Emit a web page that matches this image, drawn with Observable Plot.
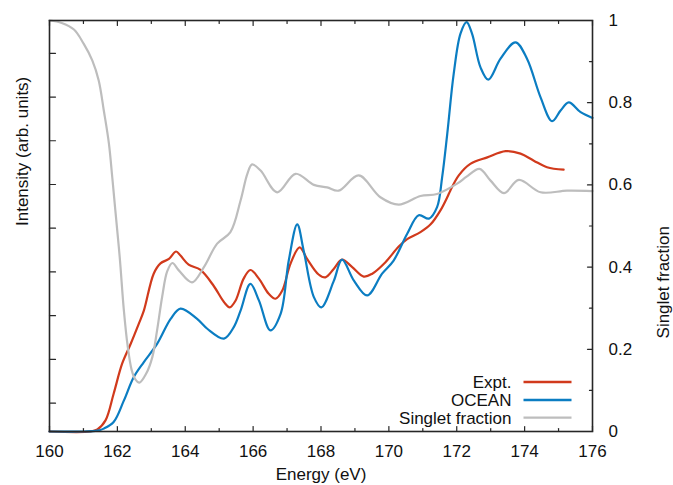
<!DOCTYPE html>
<html>
<head>
<meta charset="utf-8">
<script src="https://cdn.jsdelivr.net/npm/d3@7"></script>
<script src="https://cdn.jsdelivr.net/npm/@observablehq/plot@0.6"></script>
<style>
  html, body { margin: 0; padding: 0; background: #fff; }
  #chart { width: 673px; height: 485px; }
</style>
</head>
<body>
<div id="chart"></div>
<script>
// ---- Data (energy in eV; intensities normalised so OCEAN peak ~1) ----
const exptE = [160, 161.21, 161.41, 161.65, 161.89, 162.14, 162.39, 162.63, 162.78, 163.07, 163.27, 163.52, 163.73, 163.86, 164.10, 164.45, 164.84, 165.14, 165.31, 165.48, 165.72, 165.92, 166.17, 166.46, 166.66, 166.86, 167.10, 167.37, 167.59, 167.93, 168.13, 168.38, 168.62, 168.92, 169.26, 169.51, 169.90, 170.29, 170.54, 170.93, 171.23, 171.52, 171.72, 171.81, 172.06, 172.40, 172.90, 173.44, 173.88, 174.27, 174.66, 175.15];
const exptI = [0.0, 0.0, 0.005, 0.027, 0.092, 0.165, 0.213, 0.262, 0.294, 0.384, 0.409, 0.420, 0.438, 0.428, 0.406, 0.393, 0.354, 0.315, 0.302, 0.318, 0.372, 0.393, 0.372, 0.335, 0.323, 0.343, 0.408, 0.448, 0.420, 0.382, 0.375, 0.396, 0.418, 0.400, 0.377, 0.384, 0.412, 0.450, 0.468, 0.485, 0.504, 0.538, 0.570, 0.586, 0.623, 0.651, 0.667, 0.682, 0.676, 0.659, 0.643, 0.637];

const oceanE = [160, 161.0, 161.41, 161.60, 161.89, 162.19, 162.48, 162.78, 163.17, 163.57, 163.86, 164.35, 164.65, 165.14, 165.43, 165.63, 165.92, 166.17, 166.51, 166.81, 167.05, 167.30, 167.49, 167.79, 168.01, 168.38, 168.62, 168.97, 169.36, 169.80, 170.14, 170.54, 170.88, 171.18, 171.42, 171.57, 171.72, 171.91, 172.11, 172.29, 172.45, 172.70, 172.93, 173.29, 173.73, 174.07, 174.47, 174.81, 175.06, 175.30, 175.65, 176.0];
const oceanI = [0.0, 0.0, 0.002, 0.007, 0.023, 0.075, 0.132, 0.169, 0.213, 0.274, 0.299, 0.274, 0.250, 0.226, 0.254, 0.294, 0.359, 0.319, 0.246, 0.286, 0.416, 0.504, 0.440, 0.327, 0.302, 0.367, 0.418, 0.367, 0.331, 0.384, 0.416, 0.481, 0.526, 0.518, 0.546, 0.619, 0.724, 0.870, 0.968, 0.996, 0.968, 0.886, 0.856, 0.907, 0.947, 0.907, 0.813, 0.755, 0.781, 0.801, 0.777, 0.763];

const singletE = [160, 160.36, 160.72, 161.01, 161.26, 161.45, 161.60, 161.75, 161.85, 161.94, 162.07, 162.19, 162.30, 162.42, 162.52, 162.65, 162.85, 163.03, 163.17, 163.32, 163.47, 163.62, 163.81, 164.20, 164.55, 164.94, 165.33, 165.63, 165.83, 165.97, 166.22, 166.71, 167.25, 167.79, 168.18, 168.52, 169.11, 169.75, 170.29, 170.93, 171.42, 172.01, 172.29, 172.67, 172.99, 173.39, 173.83, 174.47, 175.25, 176.0];
const singletF = [1.0, 0.994, 0.978, 0.943, 0.903, 0.854, 0.781, 0.701, 0.618, 0.538, 0.423, 0.296, 0.210, 0.150, 0.128, 0.119, 0.141, 0.181, 0.246, 0.328, 0.390, 0.410, 0.392, 0.363, 0.400, 0.457, 0.485, 0.562, 0.627, 0.650, 0.635, 0.582, 0.627, 0.600, 0.594, 0.586, 0.623, 0.570, 0.552, 0.573, 0.578, 0.603, 0.620, 0.639, 0.611, 0.580, 0.612, 0.582, 0.586, 0.585];

const seriesNames = ["Expt.", "OCEAN", "Singlet fraction"];
const seriesColors = ["#d13a1c", "#0b7dc2", "#bdbdbd"];

const xMajorTicks = [160, 162, 164, 166, 168, 170, 172, 174, 176];
const xMinorTicks = [161, 163, 165, 167, 169, 171, 173, 175];
const rightMajorTicks = [0, 0.2, 0.4, 0.6, 0.8, 1];
const rightMinorTicks = [0.1, 0.3, 0.5, 0.7, 0.9];
const leftTicks = [0.069, 0.1754, 0.2818, 0.3882, 0.4946, 0.601, 0.7074, 0.8138, 0.9202];

const expt = exptE.map((e, i) => ({e, v: exptI[i]}));
const ocean = oceanE.map((e, i) => ({e, v: oceanI[i]}));
const singlet = singletE.map((e, i) => ({e, v: singletF[i]}));

const FONT = "'Liberation Sans', Arial, Helvetica, sans-serif";
const axisColor = "#262626";

// plain line shape for inward tick marks
const tickShape = {draw(context, l) { context.moveTo(0, 0); context.lineTo(0, -l); }};
const tick = (data, opts) => Plot.vector(data, {anchor: "start", shape: tickShape, stroke: axisColor, strokeWidth: 1.2, ...opts});

const plot = Plot.plot({
  width: 673,
  height: 485,
  marginLeft: 49,
  marginRight: 81,
  marginTop: 20,
  marginBottom: 54,
  style: {fontFamily: FONT, fontSize: "17px", background: "white", color: "#111"},
  x: {domain: [160, 176], axis: null},
  y: {domain: [0, 1], axis: null},
  marks: [
    Plot.line(expt, {x: "e", y: "v", stroke: seriesColors[0], strokeWidth: 2.2, curve: "catmull-rom"}),
    Plot.line(ocean, {x: "e", y: "v", stroke: seriesColors[1], strokeWidth: 2.2, curve: "catmull-rom"}),
    Plot.line(singlet, {x: "e", y: "v", stroke: seriesColors[2], strokeWidth: 2.2, curve: "catmull-rom"}),
    // inward ticks
    tick(xMajorTicks, {x: d => d, frameAnchor: "bottom", length: 5, rotate: 0}),
    tick(xMinorTicks, {x: d => d, frameAnchor: "bottom", length: 3, rotate: 0}),
    tick(xMajorTicks, {x: d => d, frameAnchor: "top", length: 5, rotate: 180}),
    tick(xMinorTicks, {x: d => d, frameAnchor: "top", length: 3, rotate: 180}),
    tick(leftTicks, {y: d => d, frameAnchor: "left", length: 6, rotate: 90}),
    tick(rightMajorTicks, {y: d => d, frameAnchor: "right", length: 5, rotate: -90}),
    tick(rightMinorTicks, {y: d => d, frameAnchor: "right", length: 3, rotate: -90}),
    Plot.frame({stroke: axisColor, strokeWidth: 1.6}),
    // tick labels
    Plot.text(xMajorTicks, {x: d => d, frameAnchor: "bottom", dy: 20, text: d => String(d), lineAnchor: "middle", fill: "#111"}),
    Plot.text(rightMajorTicks, {y: d => d, frameAnchor: "right", dx: 16, textAnchor: "start", text: d => (d === 0 || d === 1) ? String(d) : d.toFixed(1), fill: "#111"}),
    // axis titles
    Plot.text(["Energy (eV)"], {frameAnchor: "bottom", dy: 48, text: d => d, fill: "#111"}),
    Plot.text(["Intensity (arb. units)"], {frameAnchor: "left", dx: -27, rotate: -90, text: d => d, fill: "#111"}),
    Plot.text(["Singlet fraction"], {frameAnchor: "right", dx: 71, rotate: -90, text: d => d, fill: "#111"})
  ]
});

document.getElementById("chart").appendChild(plot);

// legend (bottom-right, inside the frame)
const svg = d3.select(plot);
const lg = svg.append("g").attr("font-family", FONT).attr("font-size", 17);
const legendRowY = [382, 400, 417.6];
seriesNames.forEach((name, i) => {
  lg.append("text")
    .attr("x", 511.5).attr("y", legendRowY[i]).attr("dy", "0.36em")
    .attr("text-anchor", "end").attr("fill", "#111").text(name);
  lg.append("line")
    .attr("x1", 523.5).attr("x2", 571.5)
    .attr("y1", legendRowY[i]).attr("y2", legendRowY[i])
    .attr("stroke", seriesColors[i]).attr("stroke-width", 2.4);
});
</script>
</body>
</html>
